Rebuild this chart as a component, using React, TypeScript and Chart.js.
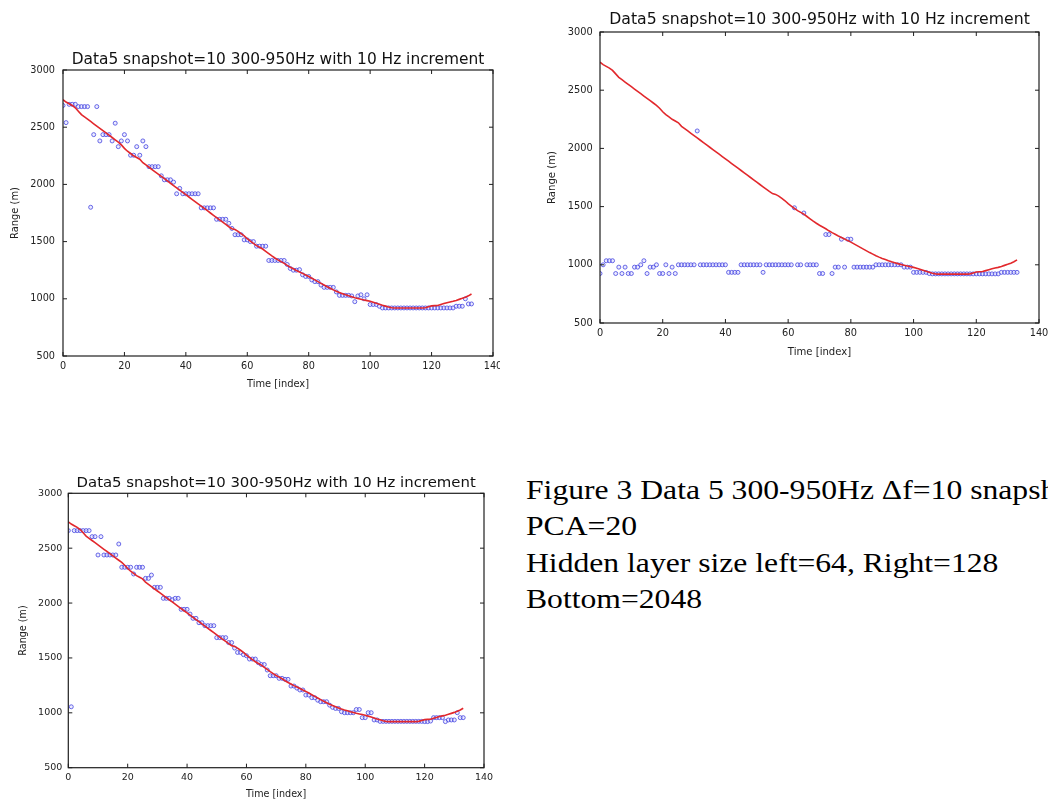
import React, { useEffect, useRef } from "react";
import { Chart, registerables } from "chart.js";

Chart.register(...registerables);

const chartTitle = "Data5 snapshot=10 300-950Hz with 10 Hz increment";
const xAxisLabel = "Time [index]";
const yAxisLabel = "Range (m)";
const xTickValues = [0, 20, 40, 60, 80, 100, 120, 140];
const yTickValues = [500, 1000, 1500, 2000, 2500, 3000];

const captionLines = [
  "Figure 3 Data 5 300-950Hz \u0394f=10 snapshot=10",
  "PCA=20",
  "Hidden layer size left=64, Right=128",
  "Bottom=2048",
];

// true range (red line), index 0..133
const truthRange = [
  2740, 2720, 2705, 2690, 2670, 2640, 2610, 2590, 2570, 2550,
  2530, 2510, 2490, 2470, 2450, 2430, 2410, 2390, 2370, 2345,
  2315, 2290, 2270, 2250, 2235, 2220, 2190, 2170, 2150, 2130,
  2110, 2090, 2070, 2050, 2030, 2010, 1990, 1970, 1950, 1930,
  1910, 1890, 1870, 1850, 1830, 1810, 1790, 1770, 1750, 1730,
  1710, 1690, 1670, 1650, 1630, 1612, 1605, 1590, 1570, 1550,
  1525, 1505, 1485, 1465, 1450, 1435, 1415, 1395, 1375, 1357,
  1340, 1325, 1310, 1292, 1276, 1262, 1248, 1235, 1222, 1208,
  1195, 1180, 1165, 1150, 1135, 1120, 1105, 1092, 1078, 1066,
  1055, 1045, 1035, 1026, 1018, 1010, 1003, 996, 990, 984,
  978, 970, 962, 953, 944, 936, 928, 922, 920, 920,
  920, 920, 920, 920, 920, 920, 920, 920, 922, 930,
  938, 940, 942, 950, 958, 966, 972, 978, 986, 995,
  1004, 1014, 1026, 1042,
];

// estimates, top-left panel (hidden layer 64)
const estimateLeft = [
  2690, 2540, 2700, 2700, 2700, 2680, 2680, 2680, 2680, 1800,
  2435, 2680, 2380, 2435, 2435, 2435, 2380, 2535, 2330, 2380,
  2435, 2380, 2255, 2255, 2330, 2255, 2380, 2330, 2155, 2155,
  2155, 2155, 2075, 2040, 2040, 2040, 2020, 1918, 1965, 1918,
  1918, 1918, 1918, 1918, 1918, 1795, 1795, 1795, 1795, 1795,
  1695, 1695, 1695, 1695, 1660, 1615, 1560, 1560, 1560, 1515,
  1515, 1500, 1500, 1460, 1460, 1460, 1460, 1335, 1335, 1335,
  1335, 1335, 1335, 1300, 1265, 1250, 1250, 1255, 1210, 1195,
  1195, 1165, 1150, 1150, 1120, 1100, 1100, 1100, 1100, 1060,
  1030, 1030, 1030, 1030, 1025, 975, 1025, 1035, 1000, 1035,
  950, 950, 950, 935, 920, 920, 920, 920, 920, 920,
  920, 920, 920, 920, 920, 920, 920, 920, 920, 920,
  920, 920, 920, 920, 920, 920, 920, 920, 935, 935,
  935, 1000, 955, 955,
];

// estimates, top-right panel (hidden layer 128)
const estimateRight = [
  925, 1000, 1035, 1035, 1035, 925, 980, 925, 980, 925,
  925, 980, 980, 1000, 1035, 925, 980, 980, 1000, 925,
  925, 1000, 925, 980, 925, 1000, 1000, 1000, 1000, 1000,
  1000, 2150, 1000, 1000, 1000, 1000, 1000, 1000, 1000, 1000,
  1000, 935, 935, 935, 935, 1000, 1000, 1000, 1000, 1000,
  1000, 1000, 935, 1000, 1000, 1000, 1000, 1000, 1000, 1000,
  1000, 1000, 1490, 1000, 1000, 1445, 1000, 1000, 1000, 1000,
  925, 925, 1260, 1260, 925, 980, 980, 1220, 980, 1220,
  1220, 980, 980, 980, 980, 980, 980, 980, 1000, 1000,
  1000, 1000, 1000, 1000, 1000, 1000, 1000, 980, 980, 980,
  935, 935, 935, 935, 935, 925, 922, 922, 922, 922,
  922, 922, 922, 922, 922, 922, 922, 922, 922, 922,
  922, 922, 922, 922, 922, 922, 922, 922, 935, 935,
  935, 935, 935, 935,
];

// estimates, bottom panel (hidden layer 2048)
const estimateBottom = [
  2660, 1055, 2660, 2660, 2660, 2660, 2660, 2660, 2605, 2605,
  2438, 2605, 2438, 2438, 2438, 2438, 2438, 2538, 2326, 2326,
  2326, 2326, 2265, 2326, 2326, 2326, 2225, 2225, 2255, 2143,
  2143, 2143, 2043, 2043, 2043, 2030, 2043, 2043, 1943, 1943,
  1943, 1900, 1861, 1861, 1821, 1821, 1794, 1794, 1794, 1794,
  1685, 1685, 1685, 1685, 1640, 1640, 1590, 1550, 1550, 1530,
  1520, 1490, 1490, 1490, 1457, 1440, 1440, 1390, 1338, 1338,
  1338, 1314, 1314, 1305, 1305, 1244, 1244, 1225, 1208, 1208,
  1162, 1162, 1138, 1138, 1115, 1101, 1101, 1101, 1070, 1050,
  1040, 1040, 1010, 1001, 1001, 1001, 1001, 1030, 1030, 956,
  956, 1001, 1001, 935, 935, 922, 922, 922, 922, 922,
  922, 922, 922, 922, 922, 922, 922, 922, 922, 922,
  920, 920, 925, 956, 956, 956, 956, 920, 935, 935,
  935, 1001, 956, 956,
];

type Panel = {
  left: number; top: number; width: number; height: number;
  padTop: number; padRight: number; yWidth: number; xHeight: number;
  titleSize: number; titleGap: number; tickSize: number; labelSize: number;
  yTickPad: number; xTickPad: number; yTitlePad: number; xTitlePad: number;
  tickLen: number; values: number[];
};

const FONT = '"DejaVu Sans", sans-serif';

const framePlugin = {
  id: "mplFrame",
  afterDatasetsDraw(chart: any, _args: any, opts: any) {
    const { ctx, chartArea } = chart;
    const { left, right, top, bottom } = chartArea;
    const xs = chart.scales.x;
    const ys = chart.scales.y;
    ctx.save();
    ctx.strokeStyle = "#1e1e1e";
    ctx.lineWidth = 1.2;
    ctx.strokeRect(left, top, right - left, bottom - top);
    ctx.lineWidth = 1;
    const L = opts.tickLen;
    ctx.beginPath();
    xs.ticks.forEach((t: any) => {
      const px = xs.getPixelForValue(t.value);
      ctx.moveTo(px, bottom);
      ctx.lineTo(px, bottom - L);
      ctx.moveTo(px, top);
      ctx.lineTo(px, top + L);
    });
    ys.ticks.forEach((t: any) => {
      const py = ys.getPixelForValue(t.value);
      ctx.moveTo(left, py);
      ctx.lineTo(left + L, py);
      ctx.moveTo(right, py);
      ctx.lineTo(right - L, py);
    });
    ctx.stroke();
    ctx.fillStyle = "#111";
    ctx.font = `${opts.titleSize}px ${FONT}`;
    ctx.textAlign = "center";
    ctx.textBaseline = "alphabetic";
    ctx.fillText(opts.title, (left + right) / 2, top - opts.titleGap);
    ctx.restore();
  },
};

function PanelChart({ p }: { p: Panel }) {
  const ref = useRef<HTMLCanvasElement | null>(null);
  useEffect(() => {
    if (!ref.current) return;
    const chart = new Chart(ref.current, {
      type: "scatter",
      data: {
        datasets: [
          {
            type: "line",
            data: truthRange.map((v, i) => ({ x: i, y: v })),
            borderColor: "#e2282c",
            borderWidth: 1.6,
            pointRadius: 0,
            fill: false,
            tension: 0,
            clip: 0,
          } as any,
          {
            type: "scatter",
            data: p.values.map((v, i) => ({ x: i, y: v })),
            pointRadius: 2,
            pointBorderWidth: 1,
            borderColor: "rgba(70,70,225,0.8)",
            backgroundColor: "rgba(200,200,255,0.35)",
            clip: 0,
          } as any,
        ],
      },
      options: {
        responsive: false,
        animation: false,
        layout: { padding: { left: 0, right: p.padRight, top: p.padTop, bottom: 0 } },
        plugins: {
          legend: { display: false },
          tooltip: { enabled: false },
          title: { display: false },
          mplFrame: { title: chartTitle, titleSize: p.titleSize, titleGap: p.titleGap, tickLen: p.tickLen },
        } as any,
        scales: {
          x: {
            type: "linear",
            min: 0,
            max: 140,
            afterBuildTicks: (s: any) => { s.ticks = xTickValues.map((v) => ({ value: v })); },
            afterFit: (s: any) => { s.height = p.xHeight; s.paddingLeft = 0; s.paddingRight = 0; },
            ticks: {
              color: "#222", font: { family: FONT, size: p.tickSize }, padding: p.xTickPad,
              maxRotation: 0, autoSkip: false, callback: (v: any) => String(v),
            },
            grid: { display: false, drawTicks: false },
            border: { display: false },
            title: { display: true, text: xAxisLabel, color: "#222", font: { family: FONT, size: p.labelSize }, padding: { top: 0, bottom: p.xTitlePad } },
          },
          y: {
            type: "linear",
            min: 500,
            max: 3000,
            afterBuildTicks: (s: any) => { s.ticks = yTickValues.map((v) => ({ value: v })); },
            afterFit: (s: any) => { s.width = p.yWidth; s.paddingTop = 0; s.paddingBottom = 0; },
            ticks: {
              color: "#222", font: { family: FONT, size: p.tickSize }, padding: p.yTickPad,
              autoSkip: false, callback: (v: any) => String(v),
            },
            grid: { display: false, drawTicks: false },
            border: { display: false },
            title: { display: true, text: yAxisLabel, color: "#222", font: { family: FONT, size: p.labelSize }, padding: { top: p.yTitlePad, bottom: 0 } },
          },
        },
      },
      plugins: [framePlugin],
    } as any);
    return () => chart.destroy();
  }, [p]);
  return (
    <canvas
      ref={ref}
      width={p.width}
      height={p.height}
      style={{ position: "absolute", left: p.left, top: p.top, width: p.width, height: p.height }}
    />
  );
}

const panels: Panel[] = [
  {
    left: 0, top: 40, width: 500, height: 355,
    padTop: 30, padRight: 7, yWidth: 63, xHeight: 39,
    titleSize: 15.4, titleGap: 6, tickSize: 9.7, labelSize: 9.9,
    yTickPad: 8, xTickPad: 5, yTitlePad: 9.3, xTitlePad: 4.3, tickLen: 4,
    values: estimateLeft,
  },
  {
    left: 540, top: 0, width: 508, height: 365,
    padTop: 32, padRight: 9, yWidth: 60, xHeight: 42,
    titleSize: 15.7, titleGap: 8, tickSize: 9.8, labelSize: 10.1,
    yTickPad: 7.3, xTickPad: 4.5, yTitlePad: 5.9, xTitlePad: 6.5, tickLen: 4,
    values: estimateRight,
  },
  {
    left: 0, top: 470, width: 500, height: 331,
    padTop: 23.3, padRight: 16, yWidth: 68.3, xHeight: 33.3,
    titleSize: 14.9, titleGap: 6, tickSize: 9.5, labelSize: 9.6,
    yTickPad: 6, xTickPad: 4.1, yTitlePad: 17.8, xTitlePad: 0.5, tickLen: 4,
    values: estimateBottom,
  },
];

export default function App() {
  return (
    <div style={{ position: "fixed", left: 0, top: 0, width: 1048, height: 801, overflow: "hidden", background: "#fff" }}>
      {panels.map((p, i) => (
        <PanelChart key={i} p={p} />
      ))}
      <div
        style={{
          position: "absolute",
          left: 526,
          top: 472,
          fontFamily: '"Liberation Serif", "Times New Roman", serif',
          fontSize: 28,
          lineHeight: "36.3px",
          whiteSpace: "nowrap",
          color: "#000",
          transform: "scaleX(1.13)",
          transformOrigin: "left top",
        }}
      >
        {captionLines.map((t, i) => (
          <div key={i}>{t}</div>
        ))}
      </div>
    </div>
  );
}
